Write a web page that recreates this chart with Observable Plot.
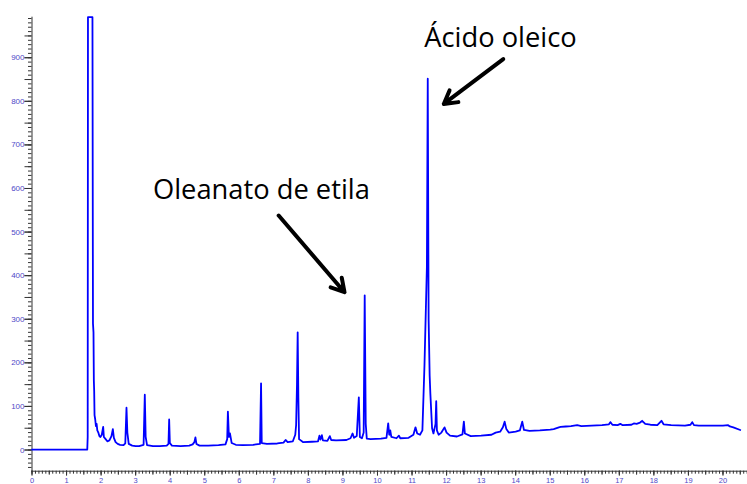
<!DOCTYPE html>
<html><head><meta charset="utf-8">
<script src="https://cdn.jsdelivr.net/npm/d3@7"></script>
<script src="https://cdn.jsdelivr.net/npm/@observablehq/plot@0.6"></script>
<style>html,body{margin:0;padding:0;background:#fff;}#chart{width:747px;height:484px;overflow:hidden}</style>
</head><body><div id="chart"></div>
<script>
// Retention time (min) and detector signal
const time = [0.00,1.60,1.612,1.62,1.75,1.765,1.78,1.79,1.80,1.81,1.83,1.85,1.87,1.89,1.92,1.95,1.98,2.02,2.06,2.08,2.12,2.18,2.24,2.30,2.34,2.37,2.42,2.48,2.55,2.65,2.70,2.735,2.76,2.80,2.90,3.00,3.10,3.23,3.265,3.29,3.33,3.50,3.70,3.90,3.95,3.97,3.99,4.05,4.30,4.55,4.65,4.70,4.73,4.76,4.85,5.10,5.40,5.60,5.65,5.67,5.70,5.73,5.78,5.90,6.10,6.40,6.60,6.63,6.65,6.80,7.10,7.28,7.34,7.40,7.55,7.62,7.645,7.67,7.69,7.71,7.73,7.85,8.10,8.28,8.32,8.35,8.39,8.42,8.55,8.62,8.66,8.80,9.10,9.22,9.28,9.32,9.40,9.46,9.49,9.55,9.60,9.63,9.66,9.69,9.80,10.10,10.26,10.31,10.34,10.37,10.40,10.55,10.62,10.66,10.90,11.04,11.10,11.15,11.23,11.30,11.36,11.43,11.455,11.48,11.51,11.53,11.58,11.62,11.68,11.70,11.72,11.77,11.85,11.94,12.00,12.10,12.30,12.46,12.50,12.53,12.70,13.00,13.30,13.42,13.55,13.63,13.68,13.73,13.80,14.00,14.12,14.19,14.24,14.40,14.70,15.00,15.10,15.25,15.30,15.45,15.60,15.78,15.90,16.20,16.50,16.70,16.74,16.80,16.95,17.03,17.10,17.35,17.42,17.50,17.60,17.66,17.75,17.90,18.10,18.22,18.28,18.50,18.90,19.06,19.11,19.16,19.30,19.60,20.00,20.15,20.20,20.30,20.50,20.71];
const signal = [1,1,30,993,993,290,270,160,135,80,70,55,60,45,40,32,30,35,53,30,26,20,22,32,48,28,18,14,12,11,15,97,40,14,10,9,9,12,127,30,11,9,9,10,14,70,16,10,9,10,13,18,29,14,10,10,11,13,25,88,30,38,16,12,11,12,14,153,16,14,15,17,23,18,20,35,57,150,270,120,25,18,19,20,33,24,34,22,21,32,23,22,23,27,38,28,32,121,30,27,40,355,60,26,25,26,28,61,35,45,30,27,33,27,28,35,52,38,35,45,194,420,852,300,171,130,50,38,60,112,45,35,40,52,40,33,31,36,65,38,32,33,35,40,42,52,65,48,40,42,45,65,46,44,45,47,48,52,53,54,55,57,55,56,57,59,64,58,57,60,57,58,61,60,63,67,60,58,57,67,59,57,56,58,64,57,56,56,56,57,54,52,46];

const yTickLabels = [0,100,200,300,400,500,600,700,800,900];
const xTickLabels = [0,1,2,3,4,5,6,7,8,9,10,11,12,13,14,15,16,17,18,19,20];

const annotationText = ["Ácido oleico", "Oleanato de etila"];
const annotationTime = [13.56, 6.64];
const annotationValue = [924, 576];
const arrowFromTime = [13.64, 7.14];
const arrowFromValue = [897, 538];
const arrowToTime = [11.92, 9.045];
const arrowToValue = [794, 362];

const trace = time.map((t, i) => ({t, v: signal[i]}));
const notes = annotationText.map((text, i) => ({text, t: annotationTime[i], v: annotationValue[i]}));
const arrows = arrowFromTime.map((t1, i) => ({t1, v1: arrowFromValue[i], t2: arrowToTime[i], v2: arrowToValue[i]}));

const yMinor = d3.range(-40, 994, 10);
const yMid = d3.range(-50, 994, 50).filter(d => d >= -48);
const xMinor = d3.range(0, 208).map(i => i / 10);
const xMid = d3.range(0, 42).map(i => i / 2);

const tickColor = "#333";
const labelColor = "#5048c8";

const chart = Plot.plot({
  width: 747, height: 484,
  marginLeft: 31.5, marginRight: 0, marginTop: 16.7, marginBottom: 13.3,
  style: {fontFamily: "Liberation Sans, Arial, sans-serif", background: "#fff"},
  x: {domain: [0, 20.71]},
  y: {domain: [-48.6, 993]},
  marks: [
    Plot.frame({anchor: "left", stroke: tickColor}),
    Plot.frame({anchor: "bottom", stroke: tickColor}),
    Plot.axisY(yMinor, {tickSize: 3.5, text: null, stroke: tickColor}),
    Plot.axisY(yMid, {tickSize: 7, text: null, stroke: tickColor}),
    Plot.axisY(yTickLabels, {tickSize: 7, tickPadding: 0.5, stroke: tickColor, fill: labelColor, fontSize: 8, label: null}),
    Plot.axisX(xMinor, {tickSize: 3, text: null, stroke: tickColor}),
    Plot.axisX(xMid, {tickSize: 4, text: null, stroke: tickColor}),
    Plot.axisX(xTickLabels, {tickSize: 5, tickPadding: 1.2, stroke: tickColor, fill: labelColor, fontSize: 7.5, label: null}),
    Plot.line(trace, {x: "t", y: "v", stroke: "#0000ff", strokeWidth: 1.8}),
    Plot.text(notes, {x: "t", y: "v", text: "text", fontSize: 27.3, fontFamily: "Open Sans", fill: "#000", lineAnchor: "bottom", textAnchor: "middle"}),
    Plot.arrow(arrows, {x1: "t1", y1: "v1", x2: "t2", y2: "v2", stroke: "#000", strokeWidth: 4, headLength: 5.5})
  ]
});
document.getElementById("chart").appendChild(chart);
</script>
</body></html>
